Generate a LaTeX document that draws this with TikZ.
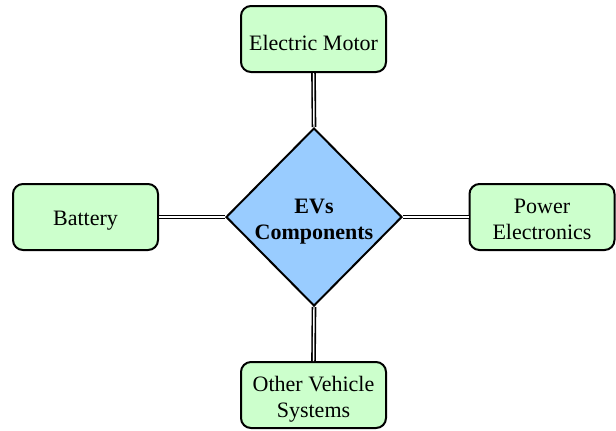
\documentclass[tikz,border=0pt]{standalone}
\usepackage{fontspec}
\setmainfont{LiberationSerif}[Extension=.ttf,UprightFont=*-Regular,BoldFont=*-Bold,ItalicFont=*-Italic,BoldItalicFont=*-BoldItalic]
\usetikzlibrary{shapes.geometric}
\definecolor{boxgreen}{HTML}{CCFFCC}
\definecolor{diablue}{HTML}{99CCFF}
\newcommand\dn[1]{\raisebox{-3pt}[\height][\depth]{#1}}
\newcommand\twol[2]{\begin{tabular}{@{}c@{}}#1\\#2\end{tabular}}
\begin{document}
\begin{tikzpicture}[x=0.75pt,y=-0.75pt,
  compbox/.style={draw=black,line width=1.5pt,fill=boxgreen,rounded corners=7.5pt,
    minimum width=108.75pt,minimum height=49.5pt,inner sep=2pt,
    font=\fontsize{16.5}{20}\selectfont},
  hub/.style={draw=black,line width=1.5pt,fill=diablue,shape=diamond,inner sep=0pt,
    minimum width=132pt,minimum height=133.5pt,
    font=\fontsize{16.5}{20}\selectfont\bfseries},
  link/.style={draw=black,line width=1.2pt,double=white,double distance=1.1pt}]
\useasboundingbox (0,0) rectangle (616,430);
\node[hub] (ev) at (314,217) {\dn{\twol{EVs}{Components}}};
\node[compbox] (motor) at (313.5,39) {\dn{Electric Motor}};
\node[compbox] (bat) at (85.5,217) {\dn{Battery}};
\node[compbox] (pe) at (542,217) {\dn{\twol{Power}{Electronics}}};
\node[compbox] (ovs) at (313.5,395) {\dn{\twol{Other Vehicle}{Systems}}};
\draw[link] (ev.north) -- (motor.south);
\draw[link] (ev.west) -- (bat.east);
\draw[link] (ev.east) -- (pe.west);
\draw[link] (ev.south) -- (ovs.north);
\end{tikzpicture}
\end{document}
